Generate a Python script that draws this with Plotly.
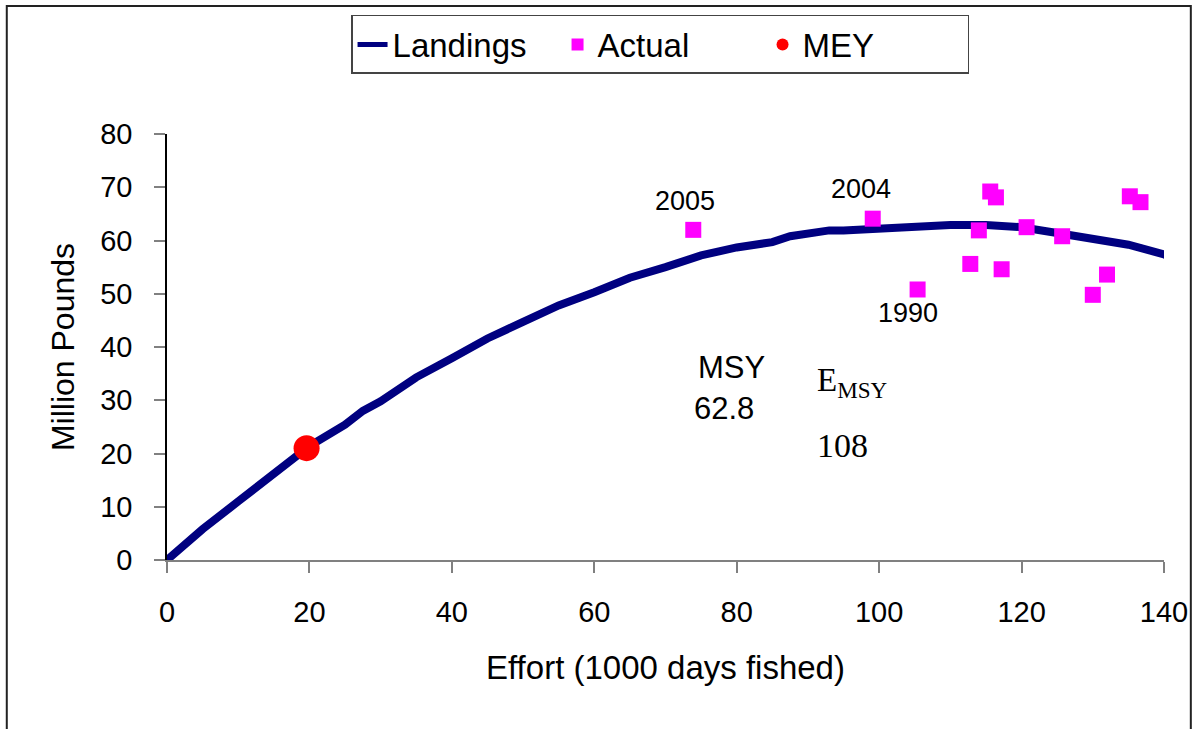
import plotly.graph_objects as go

# Landings (yield) curve
effort_curve = [0, 5, 10, 15, 20, 25, 27.5, 30, 35, 40, 45, 50, 55, 60, 65, 70, 75, 80,
                85, 87.5, 90, 93, 95, 100, 105, 110, 115, 120, 125, 130, 135, 140, 141.7]
landings_curve = [0, 5.8, 11, 16.3, 21.4, 25.4, 28, 29.8, 34.3, 37.9, 41.6, 44.7, 47.8, 50.3,
                  53, 55, 57.2, 58.7, 59.7, 60.8, 61.3, 61.9, 61.9, 62.3, 62.8, 62.9, 62.9,
                  62.5, 61.4, 60.3, 59.2, 57.4, 56.3]

# Actual observations
actual_effort = [73.9, 99.1, 105.4, 112.8, 114.0, 115.6, 116.4, 117.2, 120.7, 125.7,
                 130.0, 132.0, 135.2, 136.7]
actual_landings = [62.0, 64.1, 50.8, 55.6, 61.9, 69.2, 68.1, 54.6, 62.5, 60.8,
                   49.8, 53.6, 68.3, 67.2]

# MEY point
mey_effort = [19.6]
mey_landings = [21.0]

# Year labels
year_labels = ["2005", "2004", "1990"]
year_x = [73.9, 99.1, 105.4]
year_y = [62.0, 64.1, 50.8]

FONT = "Liberation Sans, Arial, sans-serif"
SERIF = "Liberation Serif, Times New Roman, serif"

fig = go.Figure()
fig.add_trace(go.Scatter(x=effort_curve, y=landings_curve, mode="lines", name="Landings",
                         line=dict(color="#000080", width=8)))
fig.add_trace(go.Scatter(x=actual_effort, y=actual_landings, mode="markers", name="Actual",
                         marker=dict(symbol="square", color="#FF00FF", size=16)))
fig.add_trace(go.Scatter(x=mey_effort, y=mey_landings, mode="markers", name="MEY",
                         marker=dict(symbol="circle", color="#FF0000", size=26),
                         cliponaxis=False))

annotations = []
# year labels offsets (pixels)
offs = [(-8, -29), (-12, -30), (-10, 24)]
for t, x, y, (dx, dy) in zip(year_labels, year_x, year_y, offs):
    annotations.append(dict(x=x, y=y, xref="x", yref="y", text=t, showarrow=False,
                            xshift=dx, yshift=-dy, font=dict(family=FONT, size=27, color="black")))

annotations += [
    dict(x=46.8, y=83, xref="x", yref="y", text="Pooled", showarrow=False,
         font=dict(family=FONT, size=33, color="black")),
    dict(x=79.2, y=36.2, xref="x", yref="y", text="MSY", showarrow=False,
         font=dict(family=FONT, size=31, color="black")),
    dict(x=78.2, y=28.4, xref="x", yref="y", text="62.8", showarrow=False,
         font=dict(family=FONT, size=31, color="black")),
    dict(x=96.3, y=33.3, xref="x", yref="y", text="E<sub>MSY</sub>", showarrow=False,
         font=dict(family=SERIF, size=33, color="black")),
    dict(x=94.9, y=21.5, xref="x", yref="y", text="108", showarrow=False,
         font=dict(family=SERIF, size=34, color="black")),
]

# outer frame of the chart area
shapes = [dict(type="rect", xref="paper", yref="paper", x0=-0.1607, x1=1.0269,
               y0=-0.45, y1=1.3005, line=dict(color="#222", width=2), fillcolor="rgba(0,0,0,0)",
               layer="below")]

fig.update_layout(
    width=1200, height=729,
    margin=dict(l=167, r=31, t=134, b=169),
    paper_bgcolor="white", plot_bgcolor="white",
    font=dict(family=FONT, color="black"),
    showlegend=True,
    legend=dict(orientation="h", x=0.1846, y=1.2795, xanchor="left", yanchor="top",
                bordercolor="#444", borderwidth=1.5, bgcolor="white",
                font=dict(family=FONT, size=33), itemsizing="constant",
                entrywidth=160, entrywidthmode="pixels"),
    annotations=annotations,
    shapes=shapes,
    xaxis=dict(range=[0, 140], tickvals=[0, 20, 40, 60, 80, 100, 120, 140],
               showgrid=False, zeroline=False, showline=True, linecolor="#808080", linewidth=1.5,
               ticks="outside", ticklen=11, tickcolor="#808080", tickwidth=1.5,
               ticklabelstandoff=14, tickfont=dict(family=FONT, size=29),
               title=dict(text="Effort (1000 days fished)", font=dict(family=FONT, size=33),
                          standoff=29)),
    yaxis=dict(range=[0, 80], tickvals=[0, 10, 20, 30, 40, 50, 60, 70, 80],
               showgrid=False, zeroline=False, showline=True, linecolor="#000", linewidth=1.5,
               ticks="outside", ticklen=11, tickcolor="#808080", tickwidth=1.5,
               ticklabelstandoff=16, tickfont=dict(family=FONT, size=29),
               title=dict(text="Million Pounds", font=dict(family=FONT, size=32), standoff=16)),
)

fig.write_html("out.html", config={"displayModeBar": False},
               post_script="document.body.style.margin='0';")
